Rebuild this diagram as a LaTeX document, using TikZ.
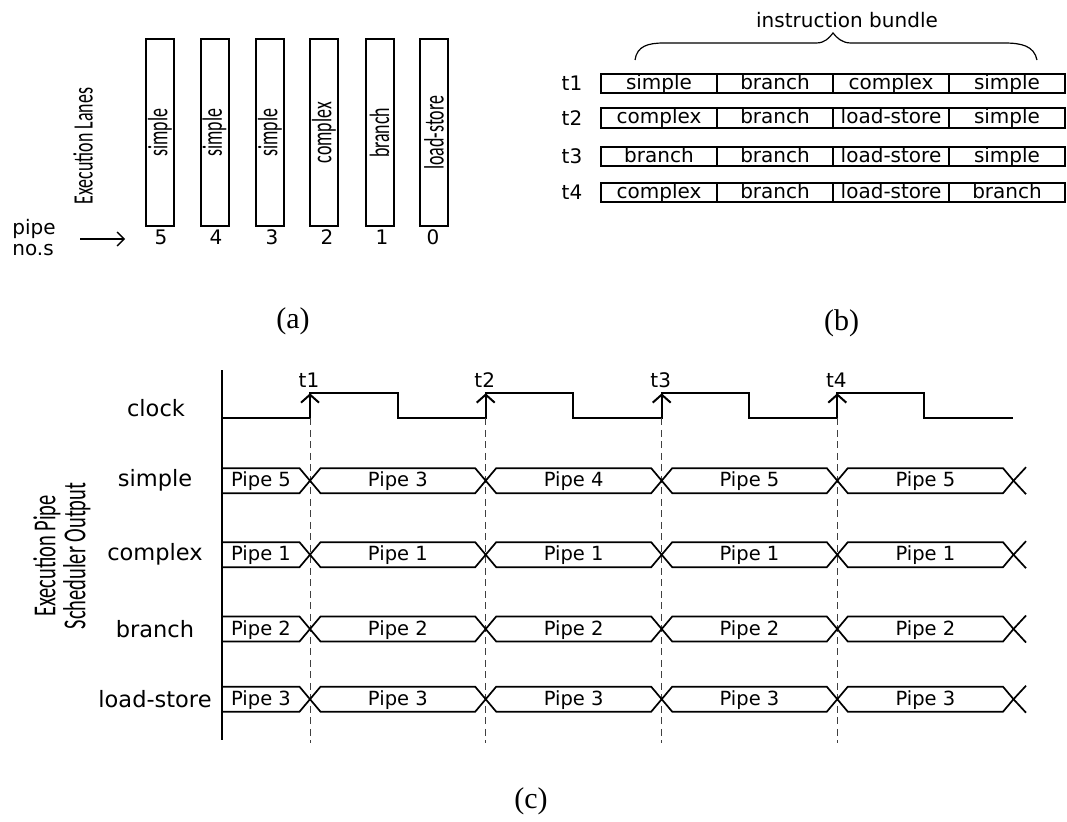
\documentclass[tikz,border=0pt]{standalone}
\usepackage{fontspec}
\setmainfont{DejaVu Sans}
\newfontfamily\narrowA[FakeStretch=0.64]{Carlito}
\newfontfamily\capfont{Liberation Serif}
\usetikzlibrary{arrows.meta}
\begin{document}
\begin{tikzpicture}[x=1pt,y=-1pt,
  lane/.style={draw, line width=2pt, rotate=90, minimum width=186.5pt, minimum height=28pt, inner sep=0pt, font=\narrowA\fontsize{28}{32}\selectfont},
  cell/.style={draw, line width=1.8pt, minimum width=116pt, minimum height=19.5pt, inner sep=0pt, text height=14.5pt, text depth=2.5pt, font=\fontsize{20}{24}\selectfont},
  lbl/.style={inner sep=0pt, font=\fontsize{20}{24}\selectfont},
  rowlbl/.style={inner sep=0pt, font=\fontsize{22.5}{27}\selectfont},
  pipetxt/.style={inner sep=0pt, text height=15pt, text depth=3pt, font=\fontsize{19.5}{23}\selectfont},
  captxt/.style={inner sep=0pt, font=\capfont\fontsize{30}{36}\selectfont},
  sig/.style={line width=2pt, line join=miter},
  bus/.style={line width=1.7pt, line join=miter},
  guide/.style={line width=1pt, dash pattern=on 7pt off 4.5pt, black!75},
]
\useasboundingbox (0,0) rectangle (1067,821);

% ---------------- (a) execution lanes ----------------
\node[lane] (lane5) at (160,132.75) {simple};
\node[lane] (lane4) at (214.5,132.75) {simple};
\node[lane] (lane3) at (270,132.75) {simple};
\node[lane] (lane2) at (324,132.75) {complex};
\node[lane] (lane1) at (379.5,132.75) {branch};
\node[lane] (lane0) at (434,132.75) {load-store};
\node[lbl] (n5) at (161,237) {5};
\node[lbl] (n4) at (216,237) {4};
\node[lbl] (n3) at (272,237) {3};
\node[lbl] (n2) at (327,237) {2};
\node[lbl] (n1) at (382,237) {1};
\node[lbl] (n0) at (433,237) {0};
\node[inner sep=0pt, rotate=90, font=\narrowA\fontsize{28}{32}\selectfont] (lanes) at (83,146) {Execution Lanes};
\node[lbl, align=left, font=\fontsize{20}{21}\selectfont] (pipe) at (34,237.5) {pipe\\no.s};
\coordinate (arrS) at (80,239);
\coordinate (arrE) at (125,239);
\draw[line width=1.3pt, -{Straight Barb[length=7pt,width=14pt]}] (arrS) -- (arrE);
\node[captxt] (capa) at (293,321.5) {(a)};

% ---------------- (b) instruction bundles ----------------
\node[lbl] (bundle) at (847,20) {instruction bundle};
\coordinate (brL) at (635,60);
\coordinate (brT) at (833,33);
\coordinate (brR) at (1037,60);
\draw[line width=1.2pt] (brL) .. controls (637,46) and (648,43) .. (664,43) -- (816,43)
  .. controls (825,43) and (829,38) .. (brT)
  .. controls (837,38) and (842,43) .. (851,43) -- (1004,43)
  .. controls (1022,43) and (1034,46) .. (brR);
\foreach \yc/\t/\ca/\cb/\cc/\cd in {83.5/t1/simple/branch/complex/simple,
    118/t2/complex/branch/load-store/simple,
    156.5/t3/branch/branch/load-store/simple,
    192.5/t4/complex/branch/load-store/branch} {
  \node[lbl] (lb\t) at (572,\yc) {\t};
  \node[cell] (c\t a) at (659,\yc) {\ca};
  \node[cell] (c\t b) at (775,\yc) {\cb};
  \node[cell] (c\t c) at (891,\yc) {\cc};
  \node[cell] (c\t d) at (1007,\yc) {\cd};
}
\node[captxt] (capb) at (841.5,323) {(b)};

% ---------------- (c) timing diagram ----------------
\coordinate (axT) at (221.7,370);
\coordinate (axB) at (221.7,740);
\draw[line width=2pt] (axT) -- (axB);
\node[rowlbl] (clk) at (156,408) {clock};
\draw[sig] (221.7,418.3) -- (310,418.3) -- (310,393.3) -- (397.7,393.3) -- (397.7,418.3)
  -- (485.7,418.3) -- (485.7,393.3) -- (573,393.3) -- (573,418.3)
  -- (661.7,418.3) -- (661.7,393.3) -- (749,393.3) -- (749,418.3)
  -- (837.3,418.3) -- (837.3,393.3) -- (924.3,393.3) -- (924.3,418.3) -- (1013,418.3);
\foreach \x/\t in {310/t1,485.7/t2,661.7/t3,837.3/t4} {
  \coordinate (e\t) at (\x,418.3);
  \coordinate (h\t) at (\x,393.3);
  \coordinate (g\t) at (\x,743);
  \draw[sig, -{Straight Barb[length=8pt,width=18pt]}] (e\t) -- (h\t);
  \draw[guide] (e\t) -- (g\t);
  \node[lbl] (lab\t) at (\x-1,380) {\t};
}
\node[inner sep=0pt, rotate=90, align=center, font=\narrowA\fontsize{32}{30}\selectfont] (sched) at (62,556) {Execution Pipe\\Scheduler Output};
\def\dd{10.5}
\def\hh{12.5}
\foreach \yc/\name/\pa/\pb/\pc/\pd/\pe/\id in {480.7/simple/5/3/4/5/5/ra,
    554.7/complex/1/1/1/1/1/rb,
    629/branch/2/2/2/2/2/rc,
    699.2/load-store/3/3/3/3/3/rd} {
  \node[rowlbl] (\id lbl) at (155,\yc) {\name};
  \draw[bus] (221.7,\yc-\hh) -- (310-\dd,\yc-\hh) -- (310,\yc) -- (310-\dd,\yc+\hh) -- (221.7,\yc+\hh);
  \foreach \a/\b in {310/485.7, 485.7/661.7, 661.7/837.3, 837.3/1013.5} {
    \draw[bus] (\a,\yc) -- (\a+\dd,\yc-\hh) -- (\b-\dd,\yc-\hh) -- (\b,\yc) -- (\b-\dd,\yc+\hh) -- (\a+\dd,\yc+\hh) -- cycle;
  }
  \draw[bus] (1013.5,\yc) -- (1013.5+\dd+2,\yc-\hh-1) (1013.5,\yc) -- (1013.5+\dd+2,\yc+\hh+1);
  \node[pipetxt] (\id s0) at (261,\yc) {Pipe \pa};
  \node[pipetxt] (\id s1) at (397.85,\yc) {Pipe \pb};
  \node[pipetxt] (\id s2) at (573.7,\yc) {Pipe \pc};
  \node[pipetxt] (\id s3) at (749.5,\yc) {Pipe \pd};
  \node[pipetxt] (\id s4) at (925.4,\yc) {Pipe \pe};
}
\node[captxt] (capc) at (531,801.5) {(c)};
\end{tikzpicture}
\end{document}
